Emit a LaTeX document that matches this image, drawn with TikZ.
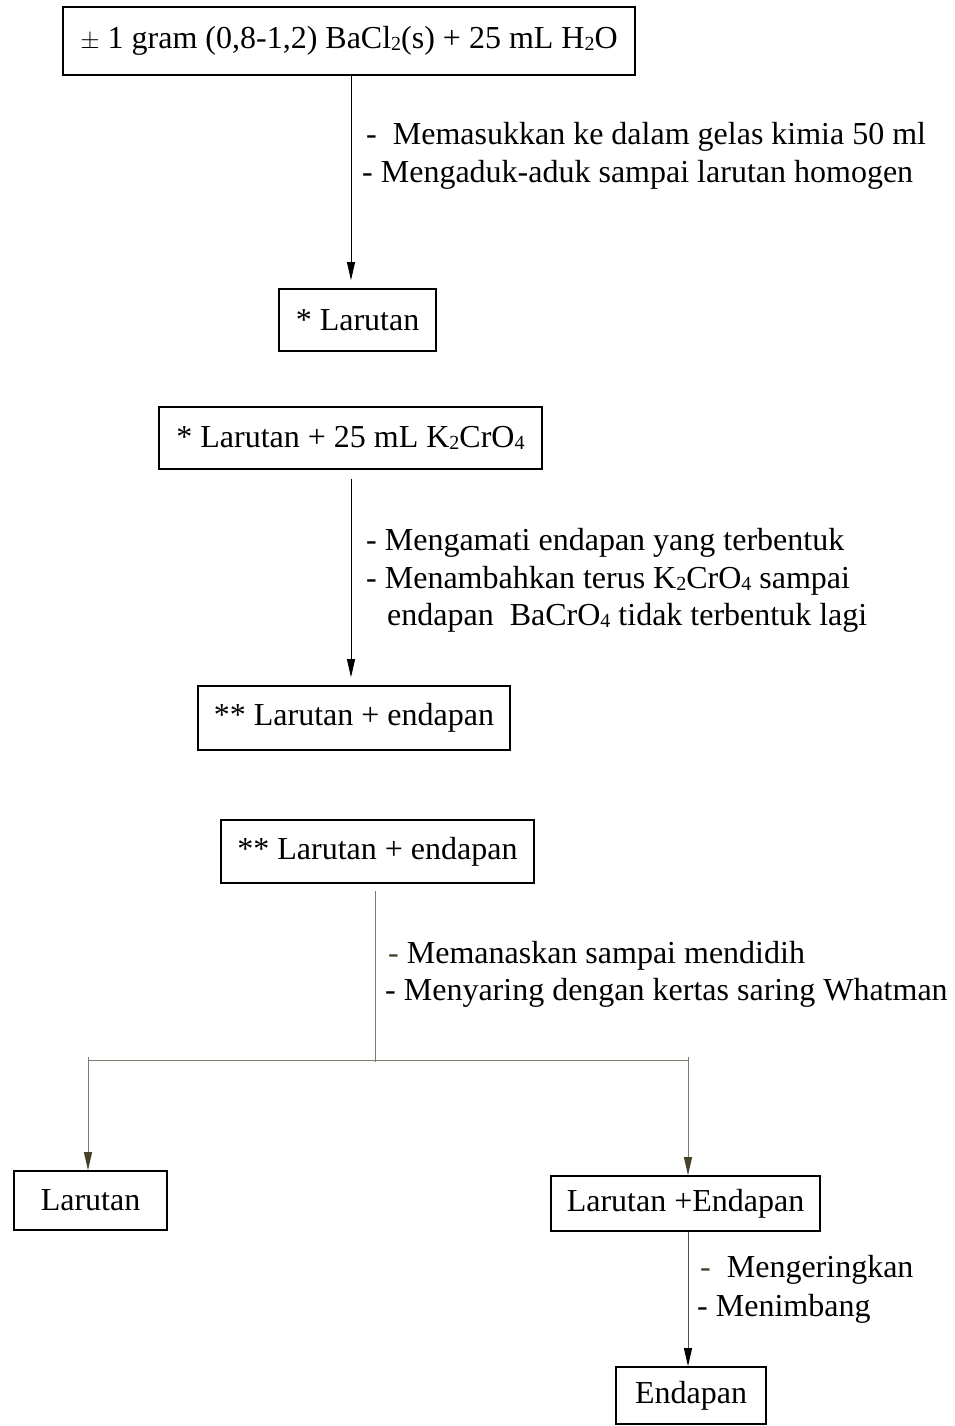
\documentclass[tikz,border=0pt]{standalone}
\usepackage{fontspec}
\setmainfont{Liberation Serif}
\usetikzlibrary{arrows.meta,calc}
\definecolor{lgray}{RGB}{128,122,108}
\definecolor{dolive}{RGB}{72,66,44}
\definecolor{dgray}{RGB}{80,80,80}
\newcommand\sbs[1]{\raisebox{-0.12ex}{\fontsize{20}{20}\selectfont #1}}
\begin{document}
\begin{tikzpicture}[x=1pt,y=-1pt,
  font=\fontsize{32}{38}\selectfont,
  box/.style={draw,line width=1.6pt,rectangle,inner sep=0pt},
  lbl/.style={anchor=west,inner sep=0pt},
  arr/.style={-{Triangle[length=18pt,width=8pt]},line width=0.9pt},
  garr/.style={draw=lgray,-{Triangle[length=18pt,width=8pt,color=dolive,fill=dolive]},line width=1pt},
  gline/.style={draw=lgray,line width=1pt}]
\useasboundingbox (0,0) rectangle (955,1426);
% boxes
\node[box,minimum width=572pt,minimum height=68pt] (b1) at (349,41) {\raisebox{-2pt}{$\pm$ 1 gram (0,8-1,2) BaCl\sbs{2}(s) + 25 mL H\sbs{2}O}};
\node[box,minimum width=157pt,minimum height=62pt] (b2) at (357.5,320) {* Larutan};
\node[box,minimum width=383pt,minimum height=62pt] (b3) at (350.5,438) {* Larutan + 25 mL K\sbs{2}CrO\sbs{4}};
\node[box,minimum width=312pt,minimum height=64pt] (b4) at (354,718) {** Larutan + endapan};
\node[box,minimum width=313pt,minimum height=63pt] (b5) at (377.5,851.5) {** Larutan + endapan};
\node[box,minimum width=153pt,minimum height=59pt] (b6) at (90.5,1200.5) {Larutan};
\node[box,minimum width=269pt,minimum height=55pt] (b7) at (685.5,1203.5) {Larutan +Endapan};
\node[box,minimum width=150pt,minimum height=57pt] (b8) at (691,1395.5) {Endapan};
% labels
\node[lbl] (l1) at (366,137) {-\ \ Memasukkan ke dalam gelas kimia 50 ml};
\node[lbl] (l2) at (362,175) {- Mengaduk-aduk sampai larutan homogen};
\node[lbl] (l3) at (366,543) {- Mengamati endapan yang terbentuk};
\node[lbl] (l4) at (366,581) {- Menambahkan terus K\sbs{2}CrO\sbs{4} sampai};
\node[lbl] (l5) at (387,618) {endapan\ \ BaCrO\sbs{4} tidak terbentuk lagi};
\node[lbl] (l6) at (388,956) {\textcolor{dolive}{-} Memanaskan sampai mendidih};
\node[lbl] (l7) at (385,993) {- Menyaring dengan kertas saring Whatman};
\node[lbl] (l8) at (700,1270) {\textcolor{dolive}{-}\ \ Mengeringkan};
\node[lbl] (l9) at (697,1309) {- Menimbang};
% connectors
\draw[arr] (b1.south -| 351,0) -- ($(b2.north -| 351,0)+(0,-8)$);
\draw[arr] ($(b3.south -| 351,0)+(0,9)$) -- ($(b4.north -| 351,0)+(0,-8)$);
\coordinate (j) at (375,1060);
\coordinate (jl) at (88,1060);
\coordinate (jr) at (688,1060);
\draw[gline] ($(b5.south -| j)+(0,7)$) -- ($(j)+(0,2)$);
\draw[gline] (jl) -- (jr);
\draw[garr] ($(jl)+(0,-3)$) -- (jl |- b6.north);
\draw[garr] ($(jr)+(0,-3)$) -- (jr |- b7.north);
\draw[draw=dgray,-{Triangle[length=18pt,width=8pt,color=black,fill=black]},line width=1pt] (b7.south -| jr) -- (jr |- b8.north);
\end{tikzpicture}
\end{document}
